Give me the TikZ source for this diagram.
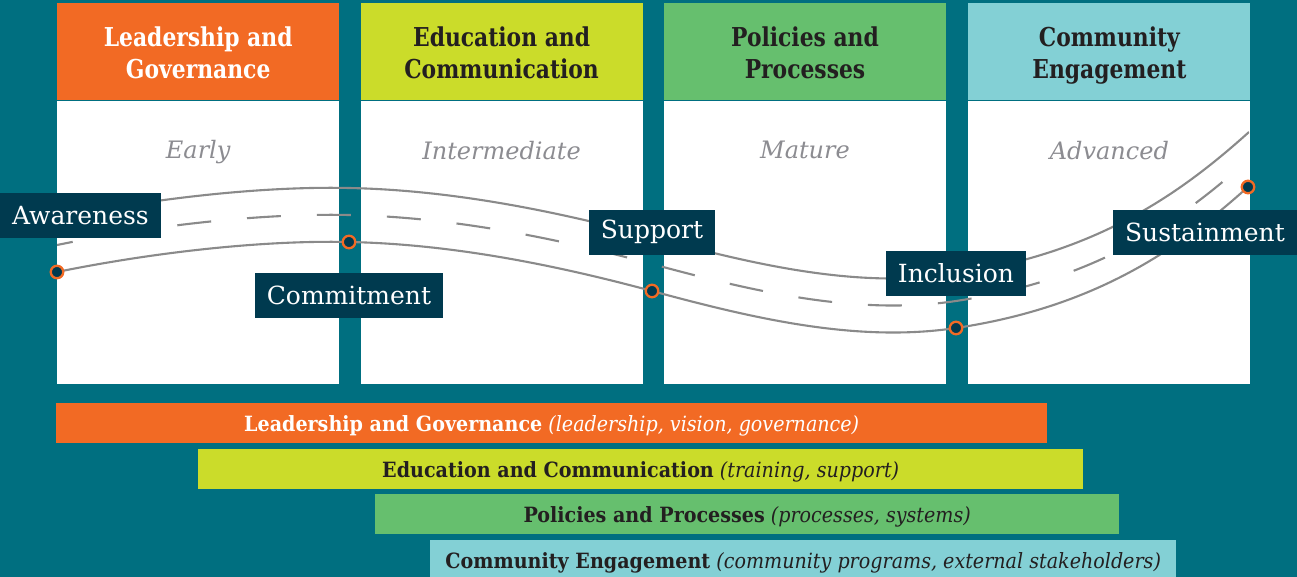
\documentclass[tikz,border=0pt]{standalone}
\usepackage{fontspec}
\setmainfont{DejaVu Serif}
\newfontfamily\condfont{DejaVu Serif}[FakeStretch=0.84]
\newfontfamily\barfont{DejaVu Serif}[FakeStretch=0.91]
\usepackage{tikz}
\usetikzlibrary{positioning}

\definecolor{bgteal}{HTML}{006F80}
\definecolor{navy}{HTML}{003A4F}
\definecolor{lgorange}{HTML}{F26A24}
\definecolor{eclime}{HTML}{CBDC2A}
\definecolor{ppgreen}{HTML}{66BF6E}
\definecolor{celight}{HTML}{83D0D5}
\definecolor{roadgray}{HTML}{8A8A8A}
\definecolor{stagegray}{HTML}{8C8C91}
\definecolor{inkdark}{HTML}{231F20}

\begin{document}
\begin{tikzpicture}[x=1pt,y=-1pt]
	\tikzstyle{headbox} = [rectangle, minimum width=282pt, minimum height=97pt, inner sep=0pt]
	\tikzstyle{headtext} = [align=center, inner sep=0pt, font=\condfont\bfseries\fontsize{26}{32}\selectfont, execute at end node=\strut]
	\tikzstyle{body} = [rectangle, fill=white, minimum width=282pt, minimum height=283pt, inner sep=0pt]
	\tikzstyle{stage} = [text=stagegray, font=\itshape\fontsize{24}{28}\selectfont]
	\tikzstyle{road} = [draw=roadgray, line width=2.1pt]
	\tikzstyle{lane} = [road, dash pattern=on 34pt off 36pt, dash phase=18pt]
	\tikzstyle{dot} = [circle, draw=lgorange, fill=navy, line width=2.3pt, minimum size=12.5pt, inner sep=0pt]
	\tikzstyle{milestone} = [rectangle, fill=navy, text=white, inner xsep=12pt, minimum height=45pt, font=\fontsize{25}{28}\selectfont]
	\tikzstyle{bar} = [rectangle, minimum height=40pt, inner sep=0pt, text height=17pt, text depth=0pt, anchor=north west, font=\barfont\fontsize{21}{24}\selectfont]
	
	\useasboundingbox (0,0) rectangle (1297,577);
	\fill[bgteal] (0,0) rectangle (1297,577);
	
	% headers
	\node[headbox, fill=lgorange, anchor=north west] (lg) at (57,3) {};
	\node[headbox, fill=eclime, right=21pt of lg] (ec) {};
	\node[headbox, fill=ppgreen, right=21pt of ec] (pp) {};
	\node[headbox, fill=celight, right=22pt of pp] (ce) {};
	
	\node[headtext, text=white] (lgtitle) at ([yshift=-6pt]lg.center) {Leadership and\\Governance};
	\node[headtext, text=inkdark] (ectitle) at ([yshift=-6pt]ec.center) {Education and\\Communication};
	\node[headtext, text=inkdark] (pptitle) at ([yshift=-6pt]pp.center) {Policies and\\Processes};
	\node[headtext, text=inkdark] (cetitle) at ([yshift=-6pt]ce.center) {Community\\Engagement};
	
	% white panels
	\node[body, below=0pt of lg] (lgbody) {};
	\node[body, below=0pt of ec] (ecbody) {};
	\node[body, below=0pt of pp] (ppbody) {};
	\node[body, below=0pt of ce] (cebody) {};
	
	\node[stage] (early) at ([yshift=-52pt]lgbody.north) {Early};
	\node[stage] (inter) at ([yshift=-50pt]ecbody.north) {Intermediate};
	\node[stage] (mature) at ([yshift=-50pt]ppbody.north) {Mature};
	\node[stage] (adv) at ([yshift=-50pt]cebody.north) {Advanced};
	
	% road
	\begin{scope}
		\clip (57,0) rectangle (1249,383);
		\foreach \lift/\kind in {0/road, 27/lane, 54/road}
			\draw[\kind, yshift=\lift pt] (57,272) .. controls (150,253) and (260,240) .. (349,242) .. controls (449,244) and (552,264) .. (652,291) .. controls (752,318) and (856,343) .. (956,328) .. controls (1096,307) and (1179,249) .. (1249,186);
	\end{scope}
	
	\node[dot] (d1) at (57,272) {};
	\node[dot] (d2) at (349,242) {};
	\node[dot] (d3) at (652,291) {};
	\node[dot] (d4) at (956,328) {};
	\node[dot] (d5) at (1248,187) {};
	
	% milestones
	\node[milestone, anchor=west] (aware) at (0,215.5) {Awareness};
	\node[milestone, below=31pt of d2.center] (commit) {Commitment};
	\node[milestone, above=36pt of d3.center] (support) {Support};
	\node[milestone, above=32pt of d4.center] (incl) {Inclusion};
	\node[milestone, anchor=east] (sustain) at (1297,232.5) {Sustainment};
	
	% bars
	\node[bar, fill=lgorange, text=white, minimum width=991pt] (lgbar) at (56,403) {\textbf{Leadership and Governance} \textit{(leadership, vision, governance)}};
	\node[bar, fill=eclime, text=inkdark, minimum width=885pt] (ecbar) at (198,449) {\textbf{Education and Communication} \textit{(training, support)}};
	\node[bar, fill=ppgreen, text=inkdark, minimum width=744pt] (ppbar) at (375,494) {\textbf{Policies and Processes} \textit{(processes, systems)}};
	\node[bar, fill=celight, text=inkdark, minimum width=746pt] (cebar) at (430,540) {\textbf{Community Engagement} \textit{(community programs, external stakeholders)}};
	
\end{tikzpicture}
\end{document}
